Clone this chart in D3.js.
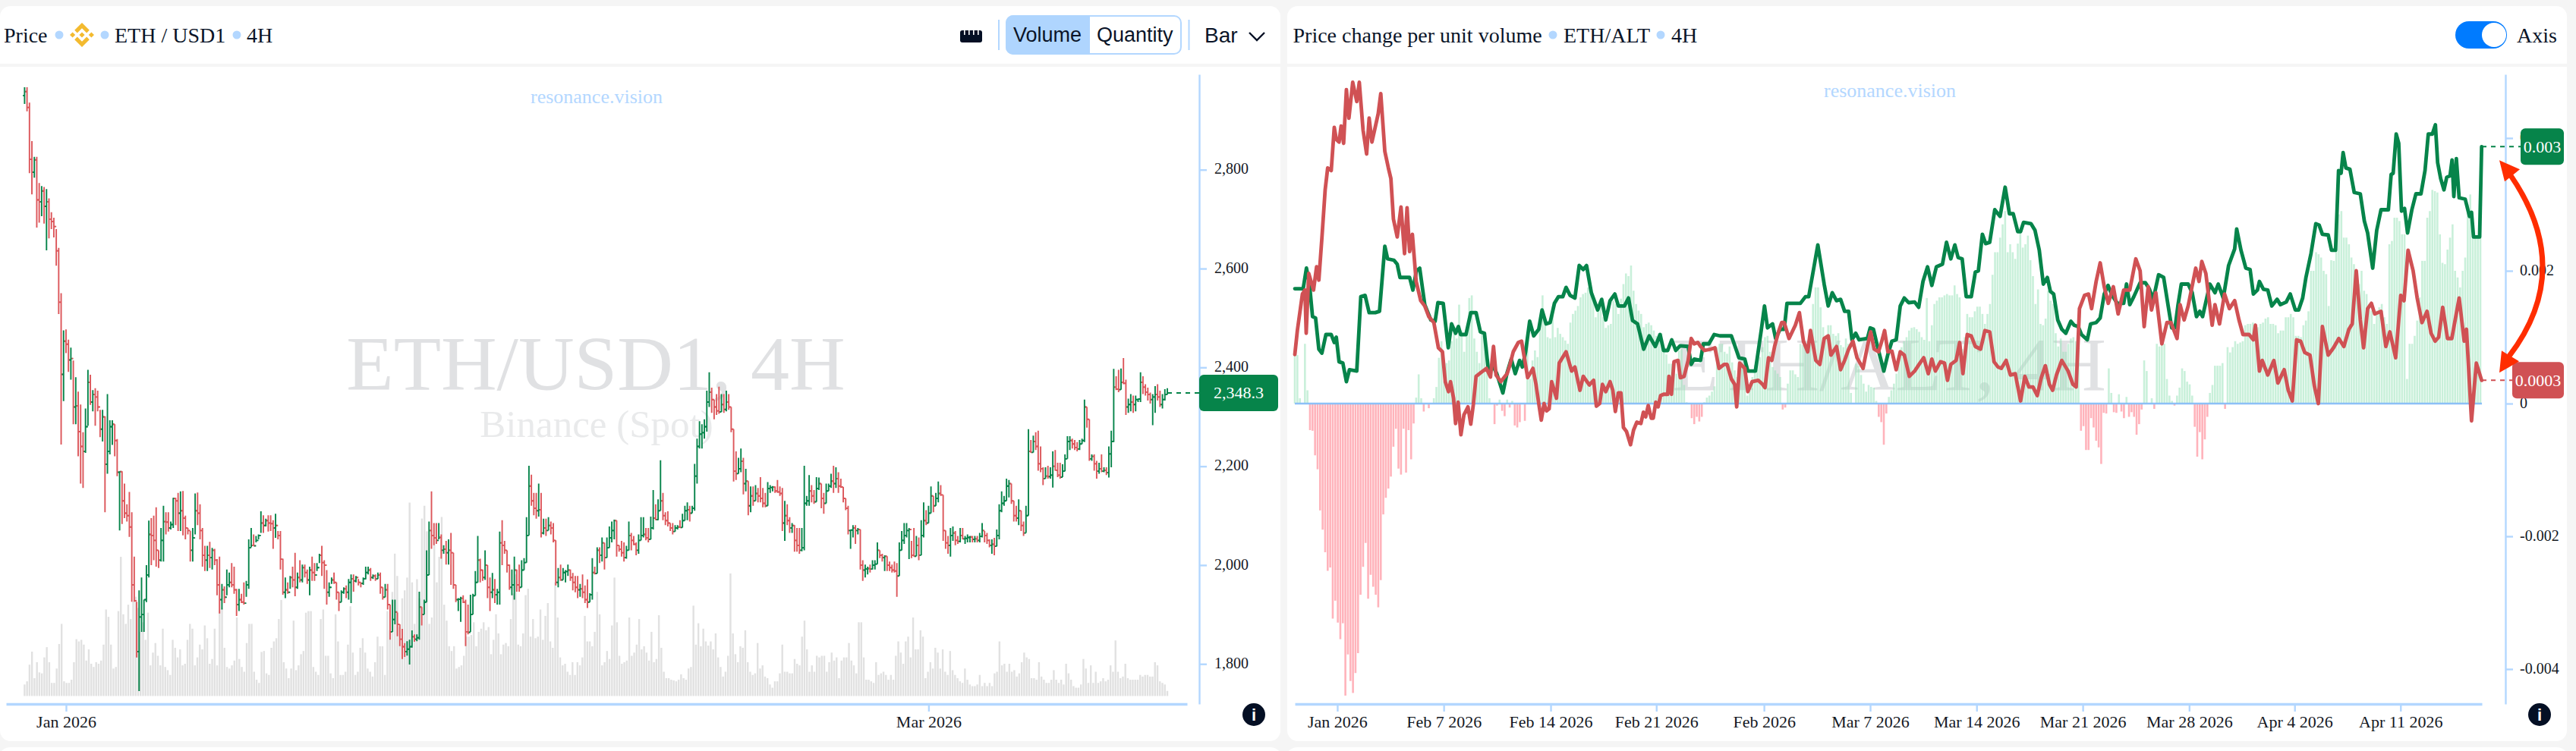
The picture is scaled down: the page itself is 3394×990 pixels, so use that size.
<!DOCTYPE html>
<html>
<head>
<meta charset="utf-8">
<title>ETH / USD1</title>
<script src="https://cdn.jsdelivr.net/npm/d3@7"></script>
<style>
  html, body { margin: 0; padding: 0; background: #f5f5f5; }
  svg { display: block; font-family: "Liberation Serif", serif; }
  .hdr { font-size: 28px; fill: #0a1428; }
  .sans { font-family: "Liberation Sans", sans-serif; }
  .axis text { fill: #14181f; }
  .axis path, .axis line { stroke: #b3d7ff; }
</style>
</head>
<body>
<script>
// price bars, [high, low, close], open is the previous close
var priceBars = [
[2967,2933,2958],[2967,2918,2926],[2936,2793,2821],[2858,2750,2795],[2826,2784,2820],[2826,2683,2739],[2773,2693,2735],[2767,2706,2757],[2765,2691,2726],[2761,2637,2735],
[2742,2661,2700],[2714,2680,2695],[2703,2663,2685],[2680,2606,2636],[2642,2508,2532],[2550,2244,2386],[2475,2332,2453],[2477,2429,2447],[2456,2391,2415],[2440,2375,2418],
[2414,2285,2320],[2380,2285,2322],[2351,2220,2270],[2325,2165,2240],[2269,2156,2230],[2317,2227,2280],[2395,2282,2370],[2385,2324,2330],[2354,2311,2345],[2358,2282,2340],
[2353,2311,2320],[2314,2259,2275],[2314,2250,2300],[2301,2107,2204],[2346,2185,2230],[2293,2224,2280],[2293,2243,2285],[2285,2220,2252],[2255,2180,2188],[2190,2070,2189],
[2190,2083,2130],[2165,2095,2105],[2123,2088,2100],[2148,2057,2077],[2107,1926,1960],[2017,1926,1928],[1926,1813,1825],[1949,1745,1895],[1975,1865,1900],[1930,1865,1930],
[2000,1925,1980],[2090,1975,2062],[2095,2000,2060],[2100,2010,2050],[2117,1997,2030],[2030,1994,2010],[2075,2007,2050],[2120,2007,2088],[2107,2062,2087],[2107,2068,2075],
[2088,2072,2082],[2136,2075,2135],[2136,2081,2130],[2146,2069,2105],[2149,2069,2110],[2150,2060,2095],[2100,2052,2075],[2075,2062,2070],[2069,2007,2030],[2075,2007,2055],
[2145,2062,2110],[2147,2081,2105],[2123,2052,2070],[2075,1997,2020],[2039,1988,2010],[2039,1988,2020],[2047,1994,2015],[2035,1991,2030],[2033,2000,2010],[2012,1939,1960],
[2017,1902,1930],[1962,1910,1950],[1957,1923,1935],[1991,1939,1960],[1985,1955,1965],[2004,1955,1960],[1997,1942,1950],[1952,1897,1920],[1952,1907,1930],[1942,1923,1925],
[1965,1920,1923],[1968,1936,1960],[2052,1952,2035],[2075,2036,2040],[2062,2039,2039],[2059,2046,2050],[2062,2052,2060],[2109,2065,2085],[2101,2065,2080],[2094,2078,2090],
[2101,2068,2085],[2101,2069,2084],[2091,2033,2075],[2104,2055,2080],[2069,2052,2060],[2069,1991,2012],[2013,1940,1945],[1975,1933,1950],[1965,1942,1945],[1978,1952,1975],
[1997,1955,1970],[2025,1937,1955],[1985,1952,1975],[2010,1965,1970],[2001,1965,1995],[2001,1975,1985],[1991,1962,1970],[1997,1939,1990],[2017,1968,1985],[2004,1968,1980],
[2004,1988,1995],[2023,2004,2020],[2039,1978,2005],[2010,1952,2000],[1990,1920,1945],[1965,1936,1955],[1975,1962,1970],[1985,1962,1965],[1965,1930,1945],[1945,1907,1925],
[1949,1925,1945],[1955,1942,1952],[1959,1933,1945],[1972,1930,1965],[1981,1923,1972],[1981,1946,1968],[1978,1965,1975],[1972,1959,1965],[1965,1955,1963],[1975,1960,1972],
[1997,1971,1985],[1997,1981,1990],[1994,1968,1975],[1981,1972,1978],[1981,1968,1972],[1985,1972,1980],[1985,1942,1955],[1955,1930,1935],[1962,1935,1950],[1962,1910,1920],
[1920,1849,1865],[1930,1865,1890],[1930,1880,1905],[1904,1856,1880],[1880,1836,1850],[1871,1810,1835],[1842,1814,1825],[1846,1817,1830],[1849,1799,1835],[1868,1833,1855],
[1860,1845,1850],[1860,1846,1853],[1946,1849,1915],[1915,1878,1900],[1930,1900,1925],[2030,1925,1980],[2088,1980,2070],[2149,2033,2060],[2085,2040,2055],[2085,2043,2050],
[2085,2052,2056],[2062,2013,2030],[2040,2023,2032],[2049,2001,2025],[2052,2001,2030],[2065,1960,2025],[2025,1952,1960],[1960,1925,1930],[1933,1907,1931],[1936,1885,1933],
[1939,1923,1925],[1930,1836,1865],[1920,1860,1864],[1940,1865,1900],[1942,1900,1938],[1988,1938,1965],[2059,1965,2010],[2013,1965,1990],[1991,1968,1975],[2030,1970,2000],
[2000,1933,1955],[1975,1907,1945],[1984,1933,1950],[1972,1923,1940],[1952,1920,1945],[2068,1920,2045],[2091,2000,2040],[2049,2023,2030],[2030,1985,2000],[2001,1950,1955],
[1991,1939,1960],[2017,1930,1990],[1991,1946,1960],[2001,1946,1955],[2010,1955,1990],[2014,1990,2005],[2097,2005,2060],[2201,2060,2160],[2183,2120,2130],[2146,2101,2115],
[2146,2094,2110],[2165,2098,2112],[2146,2056,2065],[2094,2062,2075],[2094,2059,2070],[2097,2070,2080],[2088,2062,2075],[2085,2046,2050],[2050,1959,1965],[1994,1955,1975],
[2001,1968,1970],[1994,1970,1985],[1990,1965,1987],[2001,1978,1990],[1991,1968,1975],[1984,1949,1965],[1978,1945,1955],[1978,1933,1950],[1962,1936,1952],[1981,1933,1945],
[1959,1923,1930],[1971,1913,1925],[1943,1925,1940],[2014,1930,1985],[1997,1981,1983],[2036,1983,2030],[2036,2004,2020],[2056,2007,2045],[2045,1991,2015],[2056,2015,2035],
[2078,2035,2055],[2088,2046,2070],[2092,2052,2090],[2090,2017,2040],[2040,2027,2032],[2049,2017,2025],[2046,2007,2015],[2039,2013,2030],[2088,2030,2060],[2065,2030,2050],
[2059,2040,2042],[2046,2020,2030],[2062,2023,2050],[2097,2050,2060],[2097,2056,2062],[2075,2050,2055],[2075,2046,2052],[2098,2052,2075],[2152,2072,2095],[2123,2091,2092],
[2133,2091,2110],[2212,2110,2130],[2146,2091,2100],[2107,2081,2090],[2109,2078,2085],[2085,2069,2075],[2085,2062,2068],[2081,2068,2075],[2081,2072,2077],[2091,2075,2076],
[2104,2076,2090],[2120,2090,2110],[2127,2091,2112],[2120,2088,2105],[2120,2105,2115],[2205,2110,2180],[2256,2165,2240],[2291,2236,2265],[2285,2236,2268],[2295,2256,2280],
[2353,2270,2330],[2390,2320,2350],[2359,2308,2335],[2335,2295,2320],[2346,2304,2312],[2361,2306,2310],[2346,2310,2325],[2346,2308,2315],[2353,2311,2330],[2346,2314,2320],
[2320,2269,2275],[2275,2169,2190],[2230,2172,2185],[2217,2185,2195],[2236,2188,2210],[2217,2143,2165],[2195,2149,2170],[2170,2101,2120],[2159,2107,2140],[2159,2120,2130],
[2162,2130,2145],[2156,2127,2140],[2178,2127,2135],[2156,2117,2125],[2146,2117,2120],[2168,2120,2155],[2162,2146,2157],[2160,2149,2158],[2159,2146,2150],[2172,2146,2148],
[2159,2140,2145],[2156,2069,2085],[2130,2049,2100],[2123,2081,2090],[2097,2065,2075],[2085,2065,2080],[2081,2027,2050],[2075,2027,2040],[2075,2023,2030],[2075,2028,2035],
[2201,2030,2125],[2140,2120,2130],[2182,2120,2150],[2162,2127,2140],[2152,2124,2128],[2178,2128,2155],[2177,2152,2165],[2165,2115,2135],[2146,2104,2125],[2165,2125,2150],
[2165,2150,2160],[2185,2156,2170],[2201,2146,2165],[2198,2156,2175],[2188,2146,2160],[2175,2156,2158],[2158,2127,2135],[2135,2111,2115],[2120,2062,2070],[2072,2033,2071],
[2081,2056,2075],[2081,2043,2070],[2075,2062,2072],[2072,1991,2000],[2010,1968,1990],[2001,1975,1992],[1997,1981,1993],[2001,1985,1992],[2010,1991,2000],[2010,1991,2002],
[2046,2002,2030],[2030,2014,2020],[2023,2007,2015],[2020,1988,2018],[2018,1988,2000],[2007,1988,1995],[2001,1985,1990],[2007,1985,1988],[2004,1936,1978],[2046,1978,2030],
[2069,2030,2050],[2085,2043,2060],[2085,2056,2070],[2075,2012,2072],[2049,2014,2020],[2075,2017,2018],[2059,2018,2040],[2056,2010,2020],[2091,2020,2060],[2127,2056,2090],
[2111,2081,2085],[2120,2085,2105],[2159,2105,2140],[2140,2107,2120],[2146,2120,2135],[2169,2127,2145],[2162,2140,2142],[2142,2049,2070],[2070,2033,2045],[2059,2023,2040],
[2075,2017,2060],[2078,2049,2065],[2069,2040,2050],[2059,2043,2048],[2075,2046,2060],[2075,2052,2053],[2059,2043,2054],[2062,2046,2056],[2059,2046,2057],[2059,2046,2052],
[2059,2046,2053],[2059,2046,2050],[2065,2046,2058],[2085,2056,2070],[2069,2046,2060],[2065,2043,2050],[2052,2036,2040],[2052,2023,2042],[2055,2020,2038],[2072,2038,2060],
[2123,2052,2110],[2149,2107,2125],[2140,2120,2130],[2175,2130,2160],[2172,2137,2165],[2165,2124,2130],[2130,2088,2100],[2120,2088,2095],[2133,2081,2110],[2110,2069,2080],
[2088,2059,2065],[2120,2065,2100],[2275,2100,2230],[2253,2227,2228],[2262,2228,2250],[2269,2233,2240],[2272,2191,2205],[2240,2188,2195],[2198,2162,2175],[2198,2175,2180],
[2201,2175,2179],[2198,2175,2182],[2230,2157,2200],[2233,2191,2192],[2207,2178,2182],[2207,2175,2178],[2204,2178,2190],[2224,2190,2215],[2261,2215,2250],[2261,2233,2252],
[2256,2236,2245],[2253,2233,2238],[2249,2230,2235],[2253,2233,2245],[2256,2245,2252],[2335,2249,2320],[2320,2278,2295],[2295,2211,2215],[2224,2211,2220],[2224,2191,2205],
[2211,2175,2190],[2207,2185,2195],[2224,2188,2190],[2198,2188,2192],[2198,2182,2187],[2240,2177,2225],[2272,2198,2250],[2397,2249,2360],[2382,2354,2356],[2395,2350,2355],
[2398,2355,2370],[2419,2366,2368],[2375,2304,2320],[2337,2308,2325],[2346,2311,2330],[2343,2308,2325],[2343,2311,2335],[2337,2330,2336],[2390,2330,2370],[2382,2346,2360],
[2366,2343,2350],[2359,2333,2345],[2349,2327,2335],[2346,2283,2340],[2362,2308,2345],[2366,2333,2340],[2353,2320,2325],[2346,2317,2335],[2356,2333,2345],[2358,2345,2348.3]
];

// traded volume per bar, read as bar height, no axis in the picture
var volume = [
36,46,98,139,56,106,74,71,121,153,106,41,41,86,163,226,46,41,41,51,106,178,171,176,161,111,146,101,91,106,101,111,161,271,248,161,86,91,266,436,256,226,286,241,296,311,276,201,231,176,261,96,136,166,126,96,211,91,81,66,176,151,121,146,96,101,176,226,211,96,121,161,146,221,181,101,116,211,96,266,276,151,91,86,96,111,246,116,91,76,166,226,226,76,51,41,138,141,71,66,151,171,181,241,301,106,86,56,86,236,81,96,131,141,261,266,266,91,76,66,241,271,126,126,71,56,256,171,66,66,76,161,281,136,66,76,151,181,136,86,76,61,106,186,156,156,66,266,206,326,446,376,216,306,331,371,606,356,226,366,306,556,596,516,226,246,541,356,436,561,286,236,156,141,156,86,91,96,126,186,186,191,231,156,201,211,231,206,216,131,176,256,196,131,161,166,156,241,321,381,161,156,196,316,336,186,241,181,186,271,176,251,291,171,151,356,246,121,96,101,76,66,106,66,106,96,121,251,171,171,156,201,326,256,96,106,141,116,221,371,231,126,101,106,111,246,126,136,161,241,146,156,
136,111,201,106,116,253,151,76,56,56,51,49,46,51,68,56,51,86,91,283,161,228,156,211,171,158,171,146,196,121,91,61,76,126,384,196,131,106,156,151,206,106,76,66,71,166,86,96,61,56,36,26,46,46,71,161,76,76,71,71,116,101,96,186,236,146,76,96,76,126,121,126,126,76,106,136,111,121,56,111,121,121,166,111,96,71,231,231,121,51,51,46,41,106,66,71,76,66,51,66,51,126,171,136,101,171,186,121,246,146,146,206,186,56,76,106,86,151,136,86,146,76,66,141,81,66,56,46,41,86,51,36,31,31,36,66,31,41,31,41,31,71,76,171,96,101,76,101,76,81,61,71,106,136,121,116,56,56,51,106,61,51,41,41,51,81,51,41,51,36,101,71,51,31,26,26,36,116,86,41,96,41,76,41,46,56,46,51,96,76,174,76,56,61,101,56,51,51,51,51,66,61,66,66,61,61,106,96,46,41,36,16
];

var priceTicks = [2800, 2600, 2400, 2200, 2000, 1800];
var priceDateBars = [17, 371];
var priceDateLabels = ["Jan 2026", "Mar 2026"];
var lastPrice = 2348.3;

// histogram per bar, in units of 0.00001
var histogram = [
73,73,8,0,90,20,-40,-41,-78,-99,
-161,-190,-224,-252,-247,-324,-297,-330,-355,-331,
-440,-378,-418,-436,-406,-376,-288,-246,-210,-294,
-258,-276,-288,-307,-266,-167,-142,-128,-110,-65,
-38,-98,-107,-38,-104,-40,-84,-30,9,44,
8,-12,0,-7,0,8,25,69,94,33,
61,65,94,106,98,149,110,78,110,159,
163,98,78,61,110,102,86,8,0,-31,
-3,6,-11,-19,6,-6,4,-33,-36,-28,
0,-26,104,37,65,80,70,120,163,125,
100,98,146,100,114,105,100,95,90,122,
135,140,147,160,165,167,175,165,158,130,
142,148,130,114,118,120,155,150,135,158,
180,196,192,208,170,150,140,135,115,120,
122,118,110,102,106,106,86,74,60,60,
50,45,80,82,28,2,0,-22,-31,-20,
-27,-20,2,9,12,18,26,85,90,90,
78,75,86,62,50,40,45,60,62,12,
20,40,58,65,70,85,100,102,78,55,
50,45,40,-9,-6,30,50,50,44,40,
90,88,86,92,100,150,175,175,145,115,
98,118,118,105,102,106,88,85,98,90,
16,0,60,57,43,30,18,28,25,24,
4,-20,-28,-62,-15,10,20,30,45,70,
85,94,100,110,114,115,112,108,100,96,
159,94,118,150,155,160,160,163,165,163,
163,178,165,160,82,100,135,130,130,139,
146,146,135,120,135,150,194,228,228,250,
270,290,228,240,228,218,241,262,235,240,
253,216,192,150,172,120,118,128,170,155,
150,106,86,98,78,78,90,98,100,94,
94,-41,-34,-70,-70,-22,-36,-56,-66,-91,
-14,-15,53,16,-13,-14,14,-12,-22,10,
-20,-13,-20,-47,-31,-9,65,49,-1,8,
-8,90,86,94,90,37,12,4,-3,12,
24,53,49,33,29,12,-35,-80,-43,-84,
-54,-20,16,28,57,57,57,61,-8,85,
77,85,94,90,92,94,118,120,120,122,
110,115,120,122,128,130,120,120,118,106,
110,110,130,130,135,130,102,102,100,118,
125,139,200,200,228,225,220,200,195,147,
216,215,250,285,290,250,250,240,220,210,
180,180,200,170,165,150,140,120,140,145,
150,130,120,240,245,280,280,275,255,255,
37,90,90,102,125,160,215,215,280,290,
322,320,318,255,212,210,232,250,270,200,
190,175,200,220,300,315,260,250,250,280
];

// line vertices, [bar, value in units of 0.00001]
var redLine = [
[0,74],[1,110],[3,165],[4,171],[4.5,106],[5.5,196],[7.4,171],[8.6,206],[9.5,186],[10.7,249],[12,322],[13,355],[14.4,351],[15.6,416],[16.4,398],[17.5,394],[18.3,418],[19.3,392],[20.4,473],[21.4,430],[22.9,484],[24.5,455],[25.5,484],[27,412],[28.4,376],[29.4,430],[30.5,394],[33,437],[34,467],[35.6,380],[37,355],[38,339],[39,278],[40.5,251],[42,296],[43.4,226],[44.4,295],[45.4,229],[46.5,255],[48,184],[49.8,155],[51.4,147],[53,131],[55,122],[56.8,84],[58.4,78],[59.5,33],[60.8,18],[61.6,33],[62.8,8],[63.6,-30],
[64.6,2],[65.7,-47],[66.9,-17],[68.5,-5],[69.6,-31],[70.6,-2],[71.7,41],[73.7,47],[75.8,53],[77.4,40],[78.6,86],[79.6,43],[81.5,33],[84,45],[85,57],[86.4,78],[88.4,92],[89.7,94],[90.8,69],[92.1,39],[94.2,53],[95.4,29],[96.5,0],[97.5,-25],[98.6,0],[99.6,-11],[100.6,-8],[101.6,33],[103.5,8],[104.6,61],[107.3,78],[109.5,49],[110.8,55],[112.8,20],[114.1,41],[116.5,28],[118.2,35],[119.3,-4],[120.6,0],[121.7,29],[123,18],[124.7,33],[125.8,20],[126.8,-12],[128,16],[129,16],[130,-36],[131.2,-42],[132.8,-62],[134,-40],[135.3,-28],[136.9,-30],[137.9,-13],[138.8,-20],[139.8,-3],[141,-22],[141.8,-22],[142.8,2],[143.7,-5],[144.7,12],[145.9,14],[147.5,14],[148,41],[149,14],[150,63],[151.6,65],[152.5,39],[154,41],[155.6,65],[156.8,98],[158,90],[159.4,92],[160.5,86],[162.1,80],[164.6,82],[166.2,84],[167.8,53],[169.8,59],[171,59],[172.7,37],[174,29],[174.8,-5],[176,61],[178,53],[179.2,18],[180.9,33],[183.3,35],[185,29],[186,24],[187.4,69],[188.7,65],[189.8,86],[191.5,110],[192.6,122],[193.6,122],[195.5,98],[198,118],[199.6,137],[201.2,94],[202.9,78],[204,110],[206.1,65],[207.7,59],[209.4,98],[211,102],[212.1,73],[214.3,86],[215.9,51],[217.5,65],[219.1,82],[220.8,94],[222.4,69],[224.8,53],[226.5,86],[227.8,108],[229.2,82],[230.9,78],[232.2,94],[233.3,110],[234.6,78],[236.2,79],[237.9,51],[239.5,78],[241.1,73],[243.1,41],[245.2,49],[247.3,61],[248.8,69],[250.6,45],
[252,67],[253.4,49],[255.4,63],[257,61],[258.2,35],[259.5,59],[261.6,65],[263,92],[264.3,45],[266,104],[267.6,102],[269.2,86],[271.3,82],[273,110],[274.9,108],[276.6,63],[278.2,55],[279.5,53],[281.4,65],[283.1,43],[285,45],[287.1,4],[288.8,41],[290.4,25],[292,25],[293.7,12],[295.3,39],[296.9,57],[298.5,29],[299.8,20],[301.3,43],[303.4,65],[305.9,49],[307.8,29],[309.1,25],[310.4,143],[312.4,163],[314,165],[315.2,143],[317,184],[318.6,212],[320.2,176],[321.8,151],[323.8,176],[325.7,135],[327.9,171],[330.3,171],[332.7,218],[334.4,200],[336,116],[337.6,176],[338.9,141],[340.6,167],[343,90],[345,122],[346.6,122],[349,98],[350.2,149],[351.8,126],[353.4,147],[356.4,204],[357.7,184],[358.8,214],[360.4,196],[362.9,118],[364,149],[365.8,120],[367.8,165],[369.7,143],[371.8,155],[373.5,126],[375.1,104],[377.5,104],[379.2,96],[380,118],[381.6,49],[382.7,65],[384.9,43],[387.3,65],[388.9,31],[391.4,51],[393,20],[394.6,4],[396.3,96],[397.9,94],[399.5,77],[401.6,73],[403.3,27],[404.9,0],[406.5,116],[408.8,73],[410.9,84],[413,98],[415,86],[417,112],[418.3,120],[419.9,200],[421.5,126],[422.8,84],[424.4,143],[425.9,151],[427.2,135],[429.7,139],[431.6,86],[433.2,108],[435.5,69],[437.5,163],[438.8,155],[440.4,231],[442.4,200],[444,159],[445.9,122],[447.9,139],[449.5,106],[451.1,94],[452.5,100],[454.1,145],[456,98],[457.7,98],[460.6,159],[462.6,94],[463.5,112],[465.5,-26],[467.4,61],[469.5,35]
];

var greenLine = [
[0,173],[3.3,173],[4.6,204],[5.8,180],[7,131],[8.2,129],[9.5,82],[10.7,76],[12.3,104],[14.4,104],[15.6,92],[16.4,100],[17.5,63],[19,61],[20.4,33],[21.6,51],[24.5,49],[26.1,161],[27.8,163],[29.4,137],[31.8,137],[33.5,139],[35.6,237],[36.7,218],[39.2,216],[40.5,210],[41.6,190],[45.4,190],[46.7,171],[48.1,200],[49.4,204],[51.4,149],[53.8,126],[55.5,124],[56.6,152],[58.7,151],[60.7,84],[62,120],[63.6,106],[64.7,116],[65.6,104],[67.7,104],[69.6,137],[71.7,137],[73.4,108],[75,106],[76.6,49],[78.6,55],[79.9,45],[82.3,16],[84,47],[85.6,67],[87.2,45],[88.9,65],[90,55],[91.3,78],[92.9,124],[94.5,102],[96.5,112],[97.8,141],[99.4,120],[101,122],[102.7,151],[104.3,161],[106,161],[107.3,175],[108.9,163],[110.8,159],[112.5,208],[114.1,202],[115.4,208],[117.3,167],[119.8,141],[121.4,157],[123,126],[124.7,155],[126.6,165],[128,147],[130.4,147],[132,159],[133.6,125],[135.6,120],[138,82],[140.2,102],[142.6,86],[144.5,104],[145.9,80],[147.5,80],[149.1,96],[150.7,80],[152.4,87],[155.6,86],[156.8,59],[158,67],[160.5,65],[161.6,90],[163.8,90],[165.9,104],[168.2,102],[170.3,102],[172.7,102],[175.7,69],[178,67],[179.2,49],[182.2,49],[184.5,110],[185.8,147],[187,114],[189,120],[190.2,98],[192,112],[193.6,112],[194.7,151],[200,151],[202,161],[203.3,161],[206.9,239],[209.4,180],[211,147],[212.6,167],[214.3,155],[215.9,157],[217.5,139],[219.1,139],[220.4,96],[221.9,106],[223.2,96],[226.5,98],[227.6,114],[228.9,112],[230.5,86],[233,49],[234.6,74],[236.2,94],[237.9,96],[239.5,147],[241.1,159],[242.8,152],[245.2,153],[246.8,145],[248.5,184],[250.3,206],
[252,178],[253.8,206],[256.2,210],[257.8,243],[259.5,218],[261.1,239],[262.4,220],[264,218],[265.6,161],[267.6,161],[269.2,198],[270.4,200],[272,255],[273.3,241],[274.9,243],[276.9,292],[279,282],[281,326],[282.7,286],[284.2,286],[286,259],[287.1,259],[288.3,273],[291.2,271],[292.8,261],[294.5,231],[296.1,180],[297.7,190],[298.9,169],[300.2,165],[301.8,126],[303.4,112],[305,106],[307,124],[308.3,118],[309.9,116],[311.2,104],[313.5,96],[314.8,120],[317,122],[318.6,129],[320.2,165],[321.7,178],[323.3,163],[325.4,151],[327.9,151],[329,180],[330.3,149],[331.9,161],[334.4,182],[336.5,182],[338,173],[339.6,157],[341.7,194],[343.7,190],[345.5,147],[346.9,114],[348.2,114],[349.4,149],[350.7,180],[353.4,180],[355,167],[356.7,131],[358,139],[359.1,131],[362,180],[364,167],[365.3,180],[367.3,159],[369.4,208],[371.8,233],[372.6,263],[374.3,231],[376.2,204],[377.9,202],[379.2,165],[380.8,171],[381.6,184],[383.2,172],[384.9,171],[386.5,147],[388.6,157],[389.9,149],[392.2,153],[393.8,165],[395.8,141],[397.1,141],[398.7,159],[400,190],[402,226],[403.9,271],[405.2,269],[406.5,255],[408.8,254],[410.1,231],[411.7,231],[412.9,351],[413.9,347],[414.7,378],[415.8,355],[417.4,353],[419.1,318],[421.5,316],[423.1,275],[424.4,257],[426.4,204],[428,261],[429.7,292],[432.6,292],[433.7,345],[434.5,347],[435.7,406],[436.7,392],[437.8,290],[439,294],[440.2,257],[441.9,292],[443.5,316],[445.5,316],[447.1,351],[448.4,406],[450,406],[451.2,420],[452.1,363],[453.3,339],[454.6,322],[455.7,341],[457,343],[457.8,367],[458.5,312],[459.5,369],[460.6,310],[463,308],[464.7,282],[465.5,288],[466.3,251],[468.7,251],[469.5,387]
];

var changeTicks = [0.004, 0.002, 0, -0.002, -0.004];
var changeDateBars = [16.8, 58.9, 101.2, 143, 185.6, 227.6, 269.7, 311.7, 353.8, 395.5, 437.4];
var changeDateLabels = ["Jan 2026", "Feb 7 2026", "Feb 14 2026", "Feb 21 2026", "Feb 2026", "Mar 7 2026", "Mar 14 2026", "Mar 21 2026", "Mar 28 2026", "Apr 4 2026", "Apr 11 2026"];
var lastGreenLabel = "0.003", lastRedLabel = "0.0003";

var green = "#06844a", red = "#d05154", axisBlue = "#b3d7ff", dark = "#040f24";

var svg = d3.select("body").append("svg").attr("width", 3394).attr("height", 990);

// panels, header and body are one white card with a grey strip across
function card(x, w) {
  svg.append("rect").attr("x", x).attr("y", 8).attr("width", w).attr("height", 969).attr("rx", 14).attr("fill", "#fff");
  svg.append("rect").attr("x", x).attr("y", 84).attr("width", w).attr("height", 4).attr("fill", "#f5f5f5");
  svg.append("rect").attr("x", x).attr("y", 985).attr("width", w).attr("height", 20).attr("rx", 14).attr("fill", "#fff");
}
card(0, 1687);
card(1696, 1686);

function hdr(x, s, cls) {
  return svg.append("text").attr("class", "hdr " + (cls || "")).attr("x", x).attr("y", 46).attr("dy", ".34em").text(s);
}
function dot(x) {
  svg.append("circle").attr("cx", x).attr("cy", 46).attr("r", 5.5).attr("fill", axisBlue);
}
function wm(x, y, s, size, col) {
  svg.append("text").attr("x", x).attr("y", y).attr("text-anchor", "middle")
    .style("font-size", size + "px").attr("fill", col).text(s);
}
function infoIcon(x) {
  svg.append("circle").attr("cx", x).attr("cy", 942).attr("r", 15).attr("fill", dark);
  svg.append("text").attr("class", "sans").attr("x", x).attr("y", 950).attr("text-anchor", "middle")
    .style("font-size", "22px").style("font-weight", "bold").attr("fill", "#fff").text("i");
}
function valueBox(x, w, yMid, h, col, s) {
  svg.append("rect").attr("x", x).attr("y", yMid - h / 2).attr("width", w).attr("height", h).attr("rx", 6).attr("fill", col);
  svg.append("text").attr("x", x + w / 2).attr("y", yMid).attr("dy", ".34em").attr("text-anchor", "middle")
    .style("font-size", "22px").attr("fill", "#fff").text(s);
}

// left header
hdr(5, "Price");
dot(78);
svg.append("path").attr("transform", "translate(92,30)")
  .attr("d", "M9.8 13.4L16 7.2l6.2 6.2 3.6-3.6L16 0 6.2 9.8zM0 16l3.6-3.6L7.2 16l-3.6 3.6zM9.8 18.6L16 24.8l6.2-6.2 3.6 3.6L16 32l-9.8-9.8zM24.8 16l3.6-3.6L32 16l-3.6 3.6zM19.6 16L16 12.4 12.4 16l3.6 3.6z")
  .attr("fill", "#f3ba2f");
dot(138);
hdr(151, "ETH / USD1");
dot(312);
hdr(325, "4H");

// ruler icon
svg.append("rect").attr("x", 1265).attr("y", 40).attr("width", 29).attr("height", 16).attr("rx", 3).attr("fill", dark);
[1270, 1276, 1282, 1288].forEach(function(x) {
  svg.append("rect").attr("x", x).attr("y", 40).attr("width", 1.6).attr("height", 6).attr("fill", "#fff");
});
svg.selectAll(".sep").data([1316, 1566.5]).enter().append("line").attr("class", "sep")
  .attr("x1", function(d) { return d; }).attr("x2", function(d) { return d; })
  .attr("y1", 26).attr("y2", 66).attr("stroke", axisBlue).attr("stroke-width", 2);
svg.append("rect").attr("x", 1326).attr("y", 21).attr("width", 230).attr("height", 50).attr("rx", 9)
  .attr("fill", "#fff").attr("stroke", axisBlue).attr("stroke-width", 2);
svg.append("path").attr("d", "M1335 20H1436V72H1335a10 10 0 0 1-10-10V30a10 10 0 0 1 10-10z").attr("fill", "#afd5fe");
hdr(1335, "Volume", "sans").style("font-size", "27px");
hdr(1445, "Quantity", "sans").style("font-size", "27px");
hdr(1587, "Bar", "sans");
svg.append("path").attr("d", "M1646 43l10 10 10-10").attr("fill", "none").attr("stroke", dark).attr("stroke-width", 2.4);

// left chart
wm(786, 136, "resonance.vision", 26, axisBlue);
wm(785, 514, "ETH/USD1, 4H", 102, "#e0e1e3");
wm(786, 576, "Binance (Spot)", 51, "#e9eaeb");

var x1 = d3.scaleLinear().domain([-7.6, 477.1]).range([8, 1564]);
var y1 = d3.scaleLinear().domain([1719, 2993]).range([928, 98]);
var v1 = d3.scaleLinear().domain([0, 606]).range([917.5, 662.5]);
// volume was read at its own bar count, so it gets its own x
var xVol = d3.scaleLinear().domain([0, volume.length - 1]).range([x1(0), x1(priceBars.length - 1)]);

svg.append("g").selectAll("rect").data(volume).enter().append("rect")
  .attr("x", function(d, i) { return xVol(i) - 1.2; })
  .attr("width", 2.4)
  .attr("y", function(d) { return v1(d); })
  .attr("height", function(d) { return v1(0) - v1(d); })
  .attr("fill", "#e1e1e1");

svg.append("g").selectAll("path").data(priceBars).enter().append("path")
  .attr("fill", "none")
  .attr("stroke-width", 1.9)
  .attr("stroke", function(d, i) {
    var open = i ? priceBars[i - 1][2] : 2950;
    return d[2] >= open ? green : "#dc565a";
  })
  .attr("d", function(d, i) {
    var open = i ? priceBars[i - 1][2] : 2950, x = x1(i);
    return "M" + x + "," + y1(d[0]) + "V" + y1(d[1]) +
      "M" + (x - 2.2) + "," + y1(open) + "H" + x +
      "M" + x + "," + y1(d[2]) + "H" + (x + 2.2);
  });

var axY1 = svg.append("g").attr("class", "axis").attr("transform", "translate(1580,0)")
  .call(d3.axisRight(y1).tickValues(priceTicks).tickSize(10).tickPadding(10).tickSizeOuter(0).tickFormat(d3.format(",")));
axY1.selectAll("text").style("font-size", "20px").style("font-family", "Liberation Serif").attr("dy", ".26em");
axY1.selectAll("path,line").attr("stroke-width", 2.4);

var axX1 = svg.append("g").attr("class", "axis").attr("transform", "translate(0,928)")
  .call(d3.axisBottom(x1).tickValues(priceDateBars).tickSize(10).tickPadding(5).tickSizeOuter(0)
    .tickFormat(function(d, i) { return priceDateLabels[i]; }));
axX1.selectAll("text").style("font-size", "22px").style("font-family", "Liberation Serif");
axX1.select("path").attr("stroke-width", 3.5);
axX1.selectAll("line").attr("stroke-width", 2.4);

svg.append("line").attr("x1", x1(priceBars.length - 1)).attr("x2", 1580)
  .attr("y1", y1(lastPrice)).attr("y2", y1(lastPrice))
  .attr("stroke", green).attr("stroke-width", 2).attr("stroke-dasharray", "6,6");
valueBox(1580, 104, y1(lastPrice), 48, green, d3.format(",.1f")(lastPrice));
infoIcon(1652);

// right header
hdr(1703.5, "Price change per unit volume");
dot(2046);
hdr(2060, "ETH/ALT");
dot(2188);
hdr(2202, "4H");
svg.append("rect").attr("x", 3235).attr("y", 28).attr("width", 68).attr("height", 36).attr("rx", 18).attr("fill", "#007bff");
svg.append("circle").attr("cx", 3286).attr("cy", 46).attr("r", 16).attr("fill", "#fff");
hdr(3316, "Axis");

// right chart
wm(2490, 128, "resonance.vision", 26, axisBlue);
wm(2489, 514, "ETH/ALT, 4H", 100, "#e0e1e3");

var x2 = d3.scaleLinear().domain([0, 469.6]).range([1706, 3270]);
var y2 = d3.scaleLinear().domain([-0.004526, 0.00496]).range([928, 98]);
var unit = 1e-5;

svg.append("g").selectAll("rect").data(histogram).enter().append("rect")
  .attr("x", function(d, i) { return x2(i) - 1.3; })
  .attr("width", 2.6)
  .attr("y", function(d) { return y2(Math.max(d, 0) * unit); })
  .attr("height", function(d) { return Math.abs(y2(d * unit) - y2(0)); })
  .attr("fill", function(d) { return d >= 0 ? "#97e3b8" : "#ffb3bb"; })
  .attr("fill-opacity", function(d) { return d >= 0 ? 0.52 : 1; });

svg.append("line").attr("x1", 1706).attr("x2", 3270).attr("y1", y2(0)).attr("y2", y2(0))
  .attr("stroke", "#8cc0f7").attr("stroke-width", 2.6);

var line2 = d3.line()
  .x(function(d) { return x2(d[0]); })
  .y(function(d) { return y2(d[1] * unit); });

svg.append("path").datum(greenLine).attr("d", line2).attr("fill", "none")
  .attr("stroke", green).attr("stroke-width", 4.8).attr("stroke-linejoin", "round").attr("stroke-linecap", "round");
svg.append("path").datum(redLine).attr("d", line2).attr("fill", "none")
  .attr("stroke", red).attr("stroke-width", 4.8).attr("stroke-linejoin", "round").attr("stroke-linecap", "round");

var axY2 = svg.append("g").attr("class", "axis").attr("transform", "translate(3301,0)")
  .call(d3.axisRight(y2).tickValues(changeTicks).tickSize(10).tickPadding(9).tickSizeOuter(0)
    .tickFormat(function(d) { return d === 0 ? "0" : d.toFixed(3); }));
axY2.selectAll("text").style("font-size", "20px").style("font-family", "Liberation Serif").attr("dy", ".26em");
axY2.selectAll("path,line").attr("stroke-width", 2.4);

var axX2 = svg.append("g").attr("class", "axis").attr("transform", "translate(0,928)")
  .call(d3.axisBottom(x2).tickValues(changeDateBars).tickSize(10).tickPadding(5).tickSizeOuter(0)
    .tickFormat(function(d, i) { return changeDateLabels[i]; }));
axX2.selectAll("text").style("font-size", "22px").style("font-family", "Liberation Serif");
axX2.select("path").attr("stroke-width", 3.5);
axX2.selectAll("line").attr("stroke-width", 2.4);

var yG = y2(greenLine[greenLine.length - 1][1] * unit);
var yR = y2(redLine[redLine.length - 1][1] * unit);
svg.append("line").attr("x1", 3270).attr("x2", 3321).attr("y1", yG).attr("y2", yG)
  .attr("stroke", green).attr("stroke-width", 2).attr("stroke-dasharray", "6,6");
svg.append("line").attr("x1", 3270).attr("x2", 3310).attr("y1", yR).attr("y2", yR)
  .attr("stroke", red).attr("stroke-width", 2).attr("stroke-dasharray", "6,6");
valueBox(3321, 57, yG, 48, green, lastGreenLabel);
valueBox(3310, 68, yR, 48, red, lastRedLabel);
infoIcon(3346);

// the hand drawn arrow between both line ends
var arrowCol = "#ff2d00";
svg.append("path")
  .attr("d", "M3308," + (yG + 38) + "Q3393," + ((yG + yR) / 2 + 8) + " 3306," + (yR - 32))
  .attr("fill", "none").attr("stroke", arrowCol).attr("stroke-width", 7);
svg.append("path")
  .attr("d", "M3293," + (yG + 18) + "L3320," + (yG + 30) + "L3300," + (yG + 46) + "Z")
  .attr("fill", arrowCol);
svg.append("path")
  .attr("d", "M3293," + (yR - 10) + "L3319," + (yR - 25) + "L3296," + (yR - 39) + "Z")
  .attr("fill", arrowCol);
</script>
</body>
</html>
